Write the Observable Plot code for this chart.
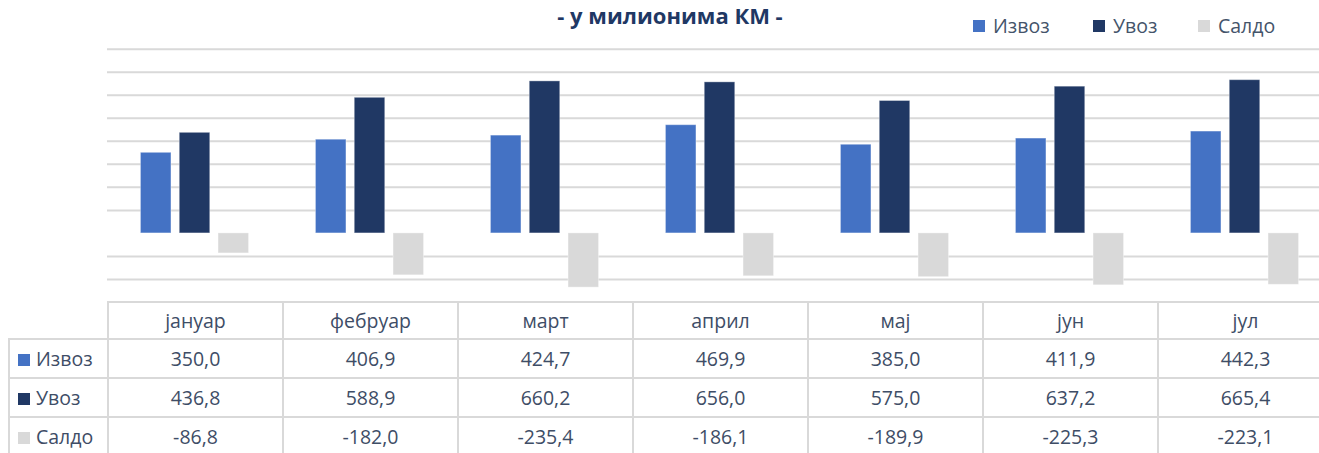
<!DOCTYPE html>
<html>
<head>
<meta charset="utf-8">
<script src="https://cdn.jsdelivr.net/npm/d3@7"></script>
<script src="https://cdn.jsdelivr.net/npm/@observablehq/plot@0.6"></script>
<style>
  html, body { margin: 0; padding: 0; overflow: hidden; background: #fff; }
  #wrap { position: relative; width: 1340px; height: 453px; font-family: "Open Sans", sans-serif; color: #44546A; }
  #chart { position: absolute; left: 0; top: 0; }
  #title { position: absolute; left: 470px; width: 400px; top: 0px; text-align: center; font-weight: bold; font-size: 22px; line-height: 30px; color: #1F3864; white-space: nowrap; }
  .leg { position: absolute; top: 16px; height: 20px; display: flex; align-items: center; font-size: 19.5px; line-height: 20px; white-space: nowrap; }
  .sw { display: inline-block; width: 12px; height: 12px; margin-right: 8px; }
  #tbl { position: absolute; left: 8px; top: 301px; border-collapse: collapse; table-layout: fixed; font-size: 19.5px; color: #3E4D66; }
  #tbl td { border: 2px solid #d9d9d9; text-align: center; padding: 0; white-space: nowrap; }
  #tbl tr.h td { height: 35px; }
  #tbl tr.r td { height: 37px; }
  #tbl td.lab { text-align: left; padding-left: 8px; }
  #tbl td.corner { border-top: none; border-left: none; }
  .lsw { display: inline-block; width: 12px; height: 12px; margin-right: 6px; vertical-align: 0px; }
</style>
</head>
<body>
<div id="wrap"></div>
<script>
const title = "- у милионима КМ -";
const months = ["јануар", "фебруар", "март", "април", "мај", "јун", "јул"];
const seriesNames = ["Извоз", "Увоз", "Салдо"];
const seriesColors = ["#4472C4", "#203864", "#D9D9D9"];
const izvoz = [350.0, 406.9, 424.7, 469.9, 385.0, 411.9, 442.3];
const uvoz  = [436.8, 588.9, 660.2, 656.0, 575.0, 637.2, 665.4];
const saldo = [-86.8, -182.0, -235.4, -186.1, -189.9, -225.3, -223.1];
const gridTicks = [-200, -100, 100, 200, 300, 400, 500, 600, 700, 800];

const seriesValues = [izvoz, uvoz, saldo];
const data = [];
seriesNames.forEach((s, i) => months.forEach((m, j) => data.push({series: s, month: m, value: seriesValues[i][j]})));

const wrap = document.getElementById("wrap");
const step = 38.8, barW = 30.5, bandW = 175;
const inset = (bandW - barW) / 2;

const chart = Plot.plot({
  width: 1332,
  height: 302,
  marginLeft: 107,
  marginRight: 0,
  marginTop: 0,
  marginBottom: 0,
  style: {background: "transparent"},
  x: {type: "band", domain: months, padding: 0, axis: null},
  y: {domain: [-300, 800], range: [302, 48.7], axis: null},
  marks: [
    Plot.ruleY(gridTicks, {stroke: "#d9d9d9", strokeWidth: 2}),
    ...seriesNames.map((s, i) => Plot.barY(data.filter(d => d.series === s), {
      x: "month", y1: 0, y2: "value",
      fill: seriesColors[i],
      stroke: "#ffffff", strokeOpacity: 0.35, strokeWidth: 1,
      dx: (i - 1) * step,
      insetLeft: inset, insetRight: inset
    }))
  ]
});
chart.id = "chart";
wrap.appendChild(chart);

const t = document.createElement("div");
t.id = "title";
t.textContent = title;
wrap.appendChild(t);

const legX = [973, 1093, 1198];
seriesNames.forEach((s, i) => {
  const d = document.createElement("div");
  d.className = "leg";
  d.style.left = legX[i] + "px";
  d.innerHTML = `<span class="sw" style="background:${seriesColors[i]}"></span><span>${s}</span>`;
  wrap.appendChild(d);
});

const fmt = v => v.toFixed(1).replace(".", ",");
const tbl = document.createElement("table");
tbl.id = "tbl";
let cg = `<colgroup><col style="width:99px">` + months.map(() => `<col style="width:175px">`).join("") + `</colgroup>`;
let html = cg + `<tr class="h"><td class="corner"></td>` + months.map(m => `<td>${m}</td>`).join("") + `</tr>`;
seriesNames.forEach((s, i) => {
  html += `<tr class="r"><td class="lab"><span class="lsw" style="background:${seriesColors[i]}"></span>${s}</td>` +
    seriesValues[i].map(v => `<td>${fmt(v)}</td>`).join("") + `</tr>`;
});
tbl.innerHTML = html;
tbl.style.width = (99 + 175 * months.length) + "px";
wrap.appendChild(tbl);
</script>
</body>
</html>
